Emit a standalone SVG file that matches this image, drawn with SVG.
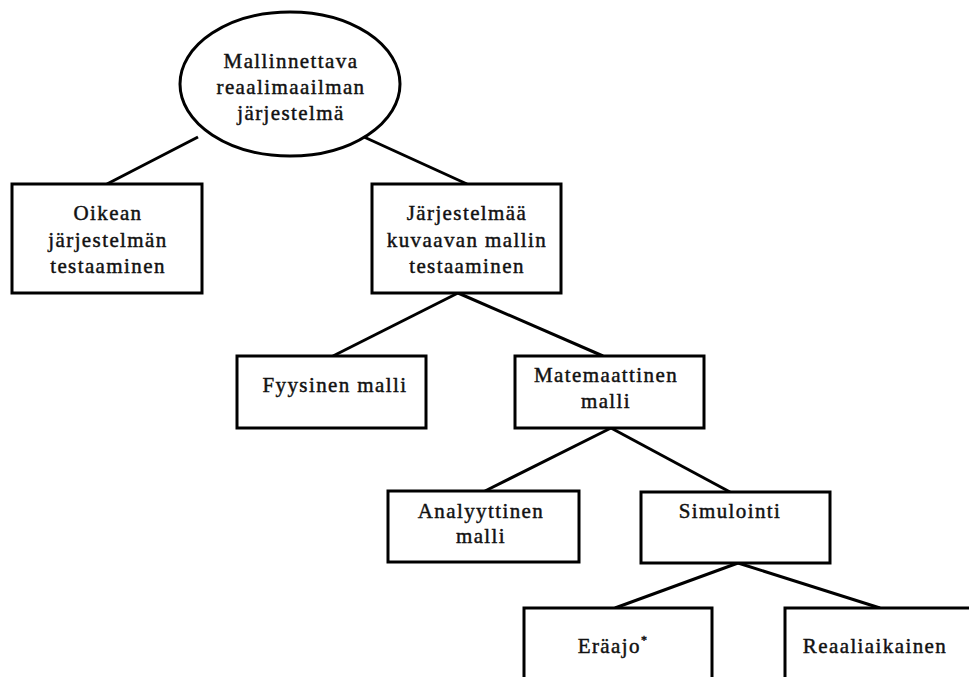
<svg xmlns="http://www.w3.org/2000/svg" width="969" height="677" viewBox="0 0 969 677">
  <style>
    .shape { fill: #ffffff; stroke: #000000; stroke-width: 3; }
    .link { stroke: #000000; stroke-width: 3; fill: none; }
    .label { font-family: "Liberation Serif", "Times New Roman", serif; font-size: 21px; letter-spacing: 1.4px; fill: #111111; stroke: #111111; stroke-width: 0.45; text-anchor: middle; }
  </style>
  <rect width="969" height="677" fill="#ffffff"/>

  <!-- tree connectors -->
  <g id="connectors">
    <line class="link" x1="198" y1="137" x2="107" y2="184"/>
    <line class="link" x1="364" y1="137" x2="467" y2="184"/>
    <line class="link" x1="458" y1="293" x2="333" y2="356"/>
    <line class="link" x1="458" y1="293" x2="603" y2="356"/>
    <line class="link" x1="611" y1="428" x2="485" y2="491"/>
    <line class="link" x1="611" y1="428" x2="730" y2="492"/>
    <line class="link" x1="738" y1="563" x2="615" y2="608"/>
    <line class="link" x1="738" y1="563" x2="880" y2="608"/>
  </g>

  <g id="root">
    <ellipse class="shape" cx="290" cy="84" rx="110" ry="72"/>
    <text class="label" x="291" y="68">Mallinnettava</text>
    <text class="label" x="291" y="94">reaalimaailman</text>
    <text class="label" x="291" y="120">järjestelmä</text>
  </g>

  <g id="real-system">
    <rect class="shape" x="12" y="184" width="190" height="109"/>
    <text class="label" x="108" y="220">Oikean</text>
    <text class="label" x="108" y="247">järjestelmän</text>
    <text class="label" x="108" y="273">testaaminen</text>
  </g>

  <g id="model-testing">
    <rect class="shape" x="372" y="184" width="189" height="109"/>
    <text class="label" x="467" y="220">Järjestelmää</text>
    <text class="label" x="467" y="247">kuvaavan mallin</text>
    <text class="label" x="467" y="273">testaaminen</text>
  </g>

  <g id="physical">
    <rect class="shape" x="237" y="356" width="189" height="72"/>
    <text class="label" x="335" y="392">Fyysinen malli</text>
  </g>

  <g id="mathematical">
    <rect class="shape" x="515" y="356" width="189" height="72"/>
    <text class="label" x="606" y="382">Matemaattinen</text>
    <text class="label" x="606" y="408">malli</text>
  </g>

  <g id="analytical">
    <rect class="shape" x="388" y="491" width="191" height="71"/>
    <text class="label" x="481" y="518">Analyyttinen</text>
    <text class="label" x="481" y="543">malli</text>
  </g>

  <g id="simulation">
    <rect class="shape" x="641" y="492" width="189" height="71"/>
    <text class="label" x="730" y="518">Simulointi</text>
  </g>

  <g id="batch">
    <rect class="shape" x="524" y="608" width="188" height="90"/>
    <text class="label" x="613" y="653">Eräajo<tspan font-size="12" dy="-9">*</tspan></text>
  </g>

  <g id="realtime">
    <rect class="shape" x="785" y="608" width="200" height="90"/>
    <text class="label" x="875" y="653">Reaaliaikainen</text>
  </g>
</svg>
